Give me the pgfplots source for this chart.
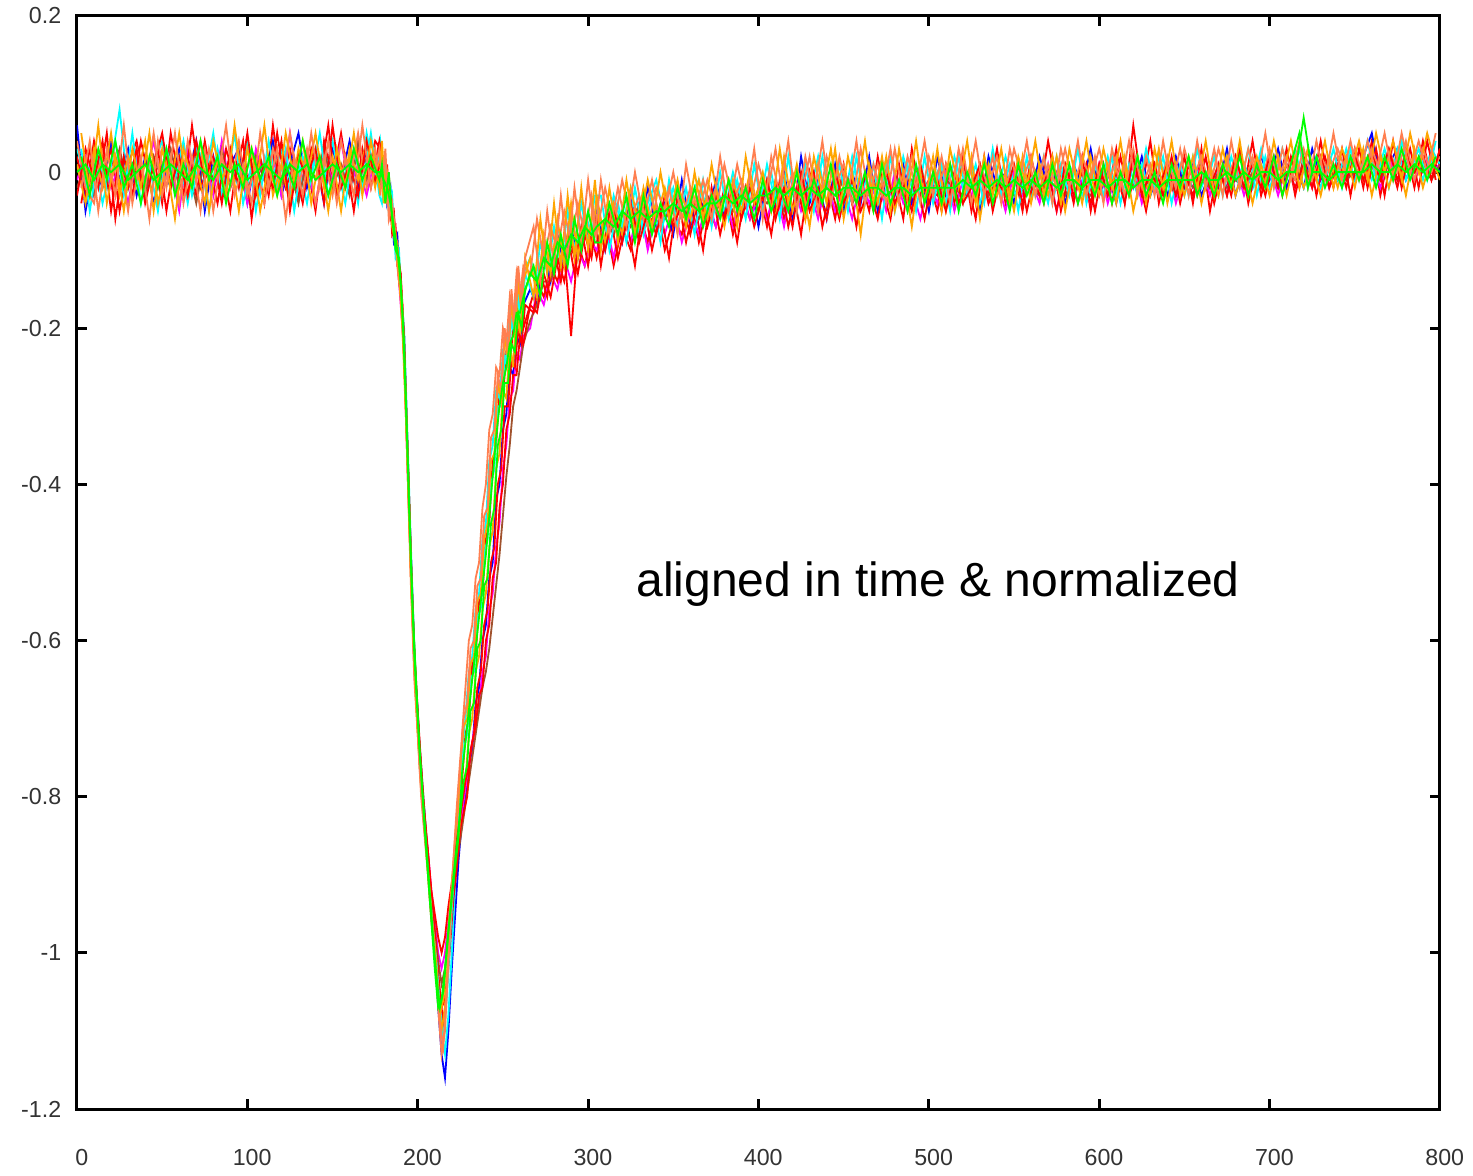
\documentclass[border=0pt]{standalone}
\usepackage{fontspec}
\setmainfont{Liberation Sans}
\usepackage{pgfplots}
\usepackage{pgfplotstable}
\pgfplotsset{compat=1.18}
\definecolor{gred}{HTML}{FF0000}
\definecolor{ggreen}{HTML}{00FF00}
\definecolor{gblue}{HTML}{0000FF}
\definecolor{gmag}{HTML}{FF00FF}
\definecolor{gcyan}{HTML}{00FFFF}
\definecolor{gsienna}{HTML}{A0522D}
\definecolor{gorange}{HTML}{FFA500}
\definecolor{gcoral}{HTML}{FF7F50}

\pgfplotstableread{
x red blue mag cyan sien orng coral redb grn
0 0.02 0.06 -0.01 0.03 -0.02 0.01 0.04 -0.03 0.00
5 -0.03 -0.05 0.02 -0.01 0.01 -0.04 -0.02 0.03 0.01
10 0.04 0.01 -0.03 0.02 -0.03 0.03 -0.04 -0.01 -0.01
15 -0.01 -0.02 0.03 -0.04 0.02 -0.02 0.03 0.04 0.01
20 0.03 0.04 -0.02 0.01 -0.01 0.05 -0.01 -0.05 0.00
25 -0.05 -0.01 0.01 0.08 0.03 -0.03 0.02 0.02 0.01
30 0.01 0.03 -0.04 -0.02 -0.02 0.02 -0.05 -0.02 -0.01
35 0.04 -0.03 0.02 0.03 0.01 -0.01 0.03 0.03 0.00
40 -0.02 0.02 -0.01 -0.03 -0.03 0.04 -0.02 -0.04 0.01
45 0.02 -0.04 0.04 0.01 0.02 -0.05 0.05 0.01 -0.01
50 -0.04 0.01 -0.02 0.04 -0.01 0.03 -0.03 0.05 0.00
55 0.05 -0.02 0.01 -0.02 0.03 -0.02 0.02 -0.02 0.01
60 -0.01 0.03 -0.05 0.02 -0.02 0.05 -0.04 0.02 0.00
65 0.02 -0.01 0.03 -0.04 0.01 -0.03 0.04 -0.03 -0.01
70 -0.03 0.04 -0.01 0.03 -0.04 0.01 -0.01 0.04 0.01
75 0.04 -0.05 0.02 -0.01 0.02 -0.04 0.03 -0.01 0.00
80 -0.02 0.02 -0.03 0.05 -0.01 0.04 -0.05 0.02 -0.01
85 0.01 -0.03 0.04 -0.03 0.03 -0.01 0.02 -0.04 0.01
90 -0.05 0.01 -0.02 0.01 -0.02 0.02 -0.02 0.03 0.00
95 0.03 0.03 0.01 -0.02 0.01 -0.05 0.04 -0.02 0.01
100 -0.01 -0.04 -0.04 0.04 -0.03 0.03 -0.03 0.05 -0.01
105 0.02 0.02 0.03 -0.05 0.02 -0.02 0.01 -0.03 0.00
110 -0.04 -0.01 -0.01 0.02 -0.01 0.06 -0.04 0.01 0.01
115 0.06 0.04 0.02 -0.01 0.03 -0.03 0.03 -0.02 0.00
120 -0.02 -0.03 -0.03 0.03 -0.02 0.01 -0.01 0.04 -0.01
125 0.03 0.01 0.05 -0.03 0.01 -0.04 0.05 -0.05 0.01
130 -0.03 0.05 -0.02 0.01 -0.04 0.03 -0.02 0.02 0.00
135 0.01 -0.02 0.01 -0.04 0.02 -0.01 0.03 -0.01 0.01
140 -0.05 0.02 -0.04 0.03 -0.01 0.05 -0.04 0.03 -0.01
145 0.04 -0.04 0.02 -0.01 0.03 -0.02 0.02 -0.04 0.00
150 -0.01 0.03 -0.01 0.04 -0.02 0.02 -0.03 0.06 0.01
155 0.05 -0.01 0.04 -0.02 0.01 -0.05 0.04 -0.02 0.00
160 -0.02 0.04 -0.02 0.02 -0.03 0.03 -0.01 0.01 0.01
165 0.03 -0.02 0.01 -0.04 0.04 -0.01 0.05 -0.03 0.00
170 -0.01 0.03 -0.03 0.05 -0.01 0.04 -0.02 0.04 0.01
175 0.04 -0.01 0.02 -0.01 0.02 -0.02 0.03 -0.01 0.00
178 0.03 -0.02 0.01 0.04 -0.01 0.02 -0.03 0.01 0.00
180 -0.03 0.02 -0.02 0.00 0.01 -0.04 0.02 -0.01 -0.01
182 0.01 -0.04 -0.01 -0.03 -0.03 0.00 -0.04 -0.02 -0.02
184 -0.06 -0.02 -0.05 -0.02 -0.04 -0.03 -0.05 -0.03 -0.04
186 -0.05 -0.09 -0.06 -0.08 -0.07 -0.08 -0.06 -0.06 -0.07
188 -0.12 -0.08 -0.11 -0.09 -0.11 -0.09 -0.12 -0.10 -0.10
190 -0.13 -0.16 -0.17 -0.15 -0.14 -0.15 -0.16 -0.13 -0.14
192 -0.24 -0.21 -0.23 -0.20 -0.22 -0.23 -0.24 -0.21 -0.22
194 -0.35 -0.37 -0.38 -0.34 -0.36 -0.37 -0.38 -0.35 -0.36
196 -0.52 -0.49 -0.51 -0.48 -0.50 -0.52 -0.53 -0.49 -0.50
198 -0.61 -0.63 -0.64 -0.61 -0.62 -0.63 -0.65 -0.61 -0.62
200 -0.71 -0.69 -0.71 -0.70 -0.71 -0.72 -0.72 -0.69 -0.70
202 -0.76 -0.78 -0.78 -0.76 -0.77 -0.79 -0.80 -0.76 -0.77
204 -0.84 -0.82 -0.83 -0.82 -0.83 -0.84 -0.85 -0.82 -0.84
206 -0.87 -0.89 -0.87 -0.88 -0.88 -0.89 -0.90 -0.87 -0.90
208 -0.94 -0.95 -0.92 -0.94 -0.93 -0.95 -0.96 -0.92 -0.96
210 -0.98 -1.00 -0.96 -0.99 -0.97 -0.99 -1.00 -0.95 -1.02
212 -1.03 -1.07 -1.00 -1.05 -1.01 -1.05 -1.07 -0.98 -1.07
214 -1.07 -1.13 -1.02 -1.10 -1.04 -1.10 -1.13 -1.00 -1.06
216 -1.06 -1.16 -1.00 -1.13 -1.02 -1.07 -1.10 -0.98 -1.02
218 -1.01 -1.10 -0.96 -1.08 -0.98 -1.00 -1.01 -0.94 -0.97
220 -0.95 -1.02 -0.92 -1.00 -0.94 -0.93 -0.93 -0.91 -0.93
222 -0.90 -0.95 -0.88 -0.91 -0.90 -0.88 -0.86 -0.87 -0.89
224 -0.85 -0.88 -0.85 -0.82 -0.87 -0.85 -0.81 -0.84 -0.85
226 -0.78 -0.83 -0.82 -0.74 -0.84 -0.80 -0.72 -0.81 -0.77
228 -0.72 -0.80 -0.79 -0.70 -0.81 -0.78 -0.66 -0.78 -0.73
230 -0.70 -0.76 -0.76 -0.64 -0.78 -0.72 -0.60 -0.76 -0.69
232 -0.63 -0.74 -0.73 -0.62 -0.75 -0.70 -0.58 -0.73 -0.65
234 -0.62 -0.68 -0.70 -0.56 -0.72 -0.64 -0.52 -0.71 -0.61
236 -0.55 -0.66 -0.68 -0.54 -0.69 -0.62 -0.50 -0.67 -0.57
238 -0.54 -0.60 -0.64 -0.47 -0.66 -0.56 -0.43 -0.66 -0.53
240 -0.47 -0.58 -0.62 -0.45 -0.64 -0.54 -0.40 -0.60 -0.49
242 -0.45 -0.52 -0.56 -0.37 -0.61 -0.48 -0.33 -0.58 -0.44
244 -0.37 -0.50 -0.54 -0.35 -0.57 -0.46 -0.31 -0.52 -0.39
246 -0.35 -0.42 -0.48 -0.28 -0.53 -0.38 -0.25 -0.50 -0.34
248 -0.28 -0.40 -0.45 -0.29 -0.49 -0.36 -0.26 -0.43 -0.30
250 -0.29 -0.33 -0.38 -0.23 -0.44 -0.28 -0.20 -0.40 -0.27
252 -0.23 -0.31 -0.35 -0.24 -0.39 -0.29 -0.22 -0.33 -0.25
254 -0.25 -0.25 -0.29 -0.18 -0.35 -0.22 -0.16 -0.31 -0.22
256 -0.20 -0.26 -0.28 -0.20 -0.30 -0.25 -0.19 -0.26 -0.21
258 -0.22 -0.21 -0.23 -0.15 -0.28 -0.17 -0.13 -0.26 -0.18
260 -0.19 -0.22 -0.24 -0.18 -0.25 -0.21 -0.16 -0.21 -0.18
262 -0.20 -0.17 -0.21 -0.13 -0.22 -0.14 -0.12 -0.22 -0.16
266 -0.17 -0.15 -0.20 -0.11 -0.19 -0.11 -0.13 -0.17 -0.13
270 -0.14 -0.17 -0.15 -0.14 -0.17 -0.16 -0.06 -0.18 -0.14
274 -0.16 -0.10 -0.17 -0.09 -0.14 -0.08 -0.11 -0.13 -0.11
278 -0.12 -0.14 -0.13 -0.12 -0.14 -0.13 -0.07 -0.16 -0.12
282 -0.14 -0.08 -0.15 -0.07 -0.11 -0.06 -0.10 -0.11 -0.09
286 -0.10 -0.12 -0.11 -0.10 -0.12 -0.12 -0.05 -0.14 -0.10
290 -0.21 -0.07 -0.14 -0.06 -0.10 -0.04 -0.09 -0.09 -0.08
294 -0.09 -0.11 -0.10 -0.09 -0.11 -0.11 -0.04 -0.13 -0.09
298 -0.12 -0.06 -0.12 -0.05 -0.08 -0.05 -0.08 -0.08 -0.07
302 -0.08 -0.10 -0.09 -0.08 -0.09 -0.10 -0.03 -0.11 -0.08
305 -0.11 -0.05 -0.10 -0.04 -0.09 -0.03 -0.08 -0.06 -0.07
310 -0.06 -0.10 -0.06 -0.09 -0.06 -0.09 -0.02 -0.10 -0.06
315 -0.12 -0.04 -0.11 -0.03 -0.08 -0.04 -0.07 -0.05 -0.07
320 -0.07 -0.09 -0.05 -0.07 -0.05 -0.08 -0.01 -0.09 -0.05
325 -0.10 -0.03 -0.09 -0.02 -0.07 -0.02 -0.06 -0.04 -0.06
330 -0.05 -0.08 -0.04 -0.08 -0.04 -0.07 -0.03 -0.09 -0.05
335 -0.09 -0.02 -0.10 -0.04 -0.07 -0.01 -0.07 -0.05 -0.06
340 -0.04 -0.07 -0.05 -0.01 -0.05 -0.06 -0.02 -0.08 -0.05
345 -0.10 -0.04 -0.08 -0.06 -0.06 -0.02 -0.05 -0.03 -0.05
350 -0.06 -0.08 -0.04 -0.02 -0.04 -0.07 0.00 -0.07 -0.04
355 -0.08 -0.01 -0.09 -0.06 -0.06 -0.03 -0.06 -0.04 -0.05
360 -0.03 -0.07 -0.05 -0.03 -0.04 -0.06 -0.02 -0.08 -0.04
365 -0.09 -0.03 -0.08 -0.01 -0.06 -0.01 -0.05 -0.03 -0.05
370 -0.04 -0.06 -0.03 -0.05 -0.03 -0.06 -0.01 -0.07 -0.04
375 -0.07 -0.01 -0.07 -0.02 -0.05 -0.02 -0.05 -0.03 -0.04
380 -0.02 -0.06 -0.03 -0.05 -0.03 -0.07 0.01 -0.06 -0.03
385 -0.08 -0.02 -0.07 0.00 -0.05 -0.01 -0.04 -0.02 -0.04
390 -0.03 -0.05 -0.02 -0.04 -0.02 -0.05 -0.01 -0.06 -0.03
395 -0.06 -0.01 -0.06 -0.02 -0.04 0.00 -0.04 -0.02 -0.04
400 -0.02 -0.07 -0.03 -0.05 -0.03 -0.05 0.01 -0.05 -0.03
405 -0.07 -0.01 -0.06 0.01 -0.04 -0.01 -0.03 -0.01 -0.03
410 -0.01 -0.05 -0.02 -0.04 -0.02 -0.06 0.03 -0.06 -0.02
415 -0.06 0.00 -0.07 -0.01 -0.05 0.02 -0.04 -0.02 -0.03
420 -0.02 -0.06 -0.01 -0.05 -0.02 -0.05 0.00 -0.07 -0.02
425 -0.08 0.02 -0.05 0.00 -0.04 -0.01 -0.03 0.00 -0.03
430 0.00 -0.04 -0.02 -0.03 -0.01 -0.07 0.02 -0.05 -0.02
435 -0.05 -0.01 -0.06 0.02 -0.04 0.01 -0.05 -0.02 -0.03
440 -0.01 -0.06 -0.01 -0.04 -0.02 -0.04 0.02 -0.06 -0.02
445 -0.06 0.01 -0.05 -0.01 -0.03 0.03 -0.02 0.00 -0.03
450 0.01 -0.05 -0.02 -0.04 -0.01 -0.06 0.01 -0.04 -0.02
455 -0.04 0.00 -0.06 0.02 -0.04 0.00 -0.04 -0.01 -0.02
460 -0.01 -0.04 -0.01 -0.03 -0.02 -0.08 0.03 -0.05 -0.03
465 -0.05 0.02 -0.04 0.00 -0.03 0.01 -0.03 -0.02 -0.02
470 0.02 -0.05 -0.01 -0.04 -0.01 -0.04 0.01 -0.06 -0.02
475 -0.04 -0.01 -0.05 0.01 -0.03 0.02 -0.04 0.00 -0.03
480 -0.01 -0.03 0.00 -0.05 -0.02 -0.05 0.03 -0.04 -0.02
485 -0.06 0.01 -0.04 0.02 -0.03 0.00 -0.03 -0.01 -0.02
490 0.03 -0.04 -0.02 -0.02 -0.01 -0.07 0.02 -0.05 -0.03
495 -0.03 0.00 -0.06 0.01 -0.03 0.01 -0.04 0.01 -0.02
500 -0.01 -0.05 -0.01 -0.03 -0.02 -0.04 0.02 -0.04 -0.02
505 -0.05 0.02 -0.04 0.00 -0.03 0.03 -0.02 -0.01 -0.02
510 0.01 -0.03 0.00 -0.04 -0.01 -0.05 0.01 -0.05 -0.02
515 -0.04 -0.01 -0.05 0.02 -0.02 0.00 -0.03 0.00 -0.02
520 0.02 -0.04 -0.01 -0.02 -0.03 -0.04 0.03 -0.04 -0.01
525 -0.05 0.01 -0.03 0.01 -0.01 0.02 -0.04 -0.02 -0.02
530 0.00 -0.05 0.01 -0.04 -0.02 -0.06 0.01 0.01 -0.01
535 -0.03 0.02 -0.04 0.00 -0.03 0.01 -0.02 -0.04 -0.02
540 0.03 -0.02 -0.01 -0.03 -0.01 -0.03 0.02 -0.01 -0.01
545 -0.04 0.00 -0.05 0.02 -0.02 0.00 -0.03 -0.03 -0.02
550 0.00 -0.04 0.00 -0.02 -0.03 -0.05 0.03 0.01 -0.01
555 -0.05 0.01 -0.03 0.01 -0.01 0.02 -0.01 -0.04 -0.02
560 0.02 -0.03 -0.01 -0.03 -0.02 -0.04 0.02 0.00 -0.01
565 -0.03 0.02 -0.04 0.00 -0.03 0.01 -0.03 -0.03 -0.02
570 0.04 -0.02 0.01 -0.04 -0.01 -0.03 0.01 0.00 -0.01
575 -0.02 0.00 -0.05 0.02 -0.02 0.02 -0.02 -0.05 -0.02
580 0.01 -0.04 0.00 -0.02 -0.03 -0.05 0.03 0.01 -0.01
585 -0.04 0.01 -0.03 0.01 -0.01 0.01 -0.02 -0.03 -0.01
590 0.02 -0.02 -0.01 -0.03 -0.02 -0.04 0.02 0.00 -0.02
595 -0.05 0.03 -0.04 0.00 -0.03 0.02 -0.01 -0.04 -0.01
600 0.01 -0.03 0.01 -0.02 -0.01 -0.03 0.03 0.01 -0.01
605 -0.03 0.00 -0.04 0.02 -0.02 0.01 -0.02 -0.03 -0.02
610 0.03 -0.04 0.00 -0.03 -0.01 -0.04 0.02 0.00 -0.01
615 -0.04 0.01 -0.03 0.01 -0.03 0.02 -0.03 -0.04 -0.01
620 0.06 -0.02 0.01 -0.02 -0.01 -0.05 0.03 0.02 -0.02
625 -0.02 0.02 -0.04 0.01 -0.02 0.00 -0.02 -0.03 -0.01
630 0.04 -0.03 0.00 -0.03 -0.01 -0.03 0.01 0.00 -0.01
635 -0.04 0.00 -0.03 0.02 -0.02 0.03 -0.03 -0.02 -0.02
640 0.01 -0.03 0.01 -0.01 -0.01 -0.04 0.02 0.01 -0.01
645 -0.03 0.02 -0.04 0.01 -0.03 0.01 -0.02 -0.03 -0.01
650 0.02 -0.02 0.00 -0.03 0.00 -0.03 0.03 0.00 -0.01
655 -0.04 0.01 -0.02 0.02 -0.02 0.02 -0.01 -0.03 -0.01
660 0.03 -0.03 0.01 -0.02 -0.01 -0.04 0.02 0.01 0.00
665 -0.05 0.00 -0.03 0.01 -0.02 0.01 -0.02 -0.02 -0.01
670 0.01 -0.02 0.01 -0.03 0.00 -0.03 0.03 0.01 -0.01
675 -0.03 0.03 -0.02 0.02 -0.02 0.02 -0.01 -0.03 0.00
680 0.02 -0.03 0.01 -0.01 -0.01 -0.03 0.02 0.02 -0.01
685 -0.02 0.01 -0.03 0.01 -0.02 0.01 -0.02 -0.02 0.00
690 0.04 -0.02 0.00 -0.02 0.00 -0.04 0.02 0.01 -0.01
695 -0.03 0.02 -0.02 0.03 -0.01 0.01 -0.02 -0.02 0.00
700 0.01 -0.01 0.01 -0.02 0.00 -0.03 0.03 0.02 0.00
705 -0.02 0.03 -0.03 0.01 -0.02 0.02 -0.01 -0.02 -0.01
710 0.03 -0.02 0.01 -0.01 0.00 -0.03 0.02 0.01 0.00
715 -0.03 0.01 -0.02 0.03 -0.01 0.02 -0.01 -0.02 0.00
720 0.02 -0.02 0.01 -0.02 0.01 -0.02 0.03 0.01 0.07
725 -0.02 0.03 -0.02 0.01 -0.01 0.01 -0.01 -0.02 0.00
730 0.04 -0.01 0.01 -0.02 0.00 -0.03 0.02 0.02 0.00
735 -0.02 0.02 -0.02 0.02 -0.01 0.02 0.00 -0.02 -0.01
740 0.02 -0.01 0.01 -0.01 0.01 -0.02 0.03 0.01 0.00
745 -0.02 0.02 -0.01 0.03 -0.01 0.02 0.00 -0.01 0.00
750 0.03 -0.01 0.02 -0.01 0.00 -0.02 0.03 0.02 0.00
755 -0.02 0.02 -0.01 0.02 -0.01 0.03 -0.01 -0.01 0.00
760 0.04 0.05 0.01 -0.01 0.01 -0.03 0.03 0.02 0.01
765 -0.03 -0.01 -0.02 0.02 -0.01 0.02 0.00 -0.01 0.00
770 0.02 0.01 0.02 -0.02 0.01 -0.02 0.03 0.03 0.00
775 -0.02 0.03 -0.01 0.03 -0.01 0.02 0.00 -0.01 0.01
780 0.03 -0.01 0.02 -0.01 0.01 -0.03 0.04 0.02 0.00
785 -0.02 0.02 -0.01 0.02 0.00 0.03 -0.01 0.00 0.01
790 0.04 0.00 0.02 -0.01 0.01 -0.02 0.03 0.02 0.00
795 -0.01 0.02 0.00 0.03 -0.01 0.02 0.00 -0.01 0.01
800 0.03 0.00 0.01 0.01 0.01 -0.01 0.02 0.03 0.00
}\traces

\pgfplotstableread{
x redc cyanb orngb coralb grnb
2.5 -0.04 0.03 0.05 -0.02 0.02
7.5 0.03 -0.05 -0.03 0.04 -0.03
12.5 -0.02 0.02 0.06 -0.05 0.03
17.5 0.05 -0.02 -0.04 0.03 -0.01
22.5 -0.06 0.04 0.02 -0.03 0.04
27.5 0.02 -0.03 -0.05 0.06 -0.02
32.5 -0.03 0.05 0.03 -0.04 0.01
37.5 0.04 -0.04 -0.02 0.02 -0.04
42.5 -0.01 0.01 0.05 -0.06 0.02
47.5 0.03 -0.05 -0.04 0.04 -0.02
52.5 -0.05 0.03 0.01 -0.02 0.03
57.5 0.02 -0.01 -0.06 0.05 -0.03
62.5 -0.03 0.04 0.03 -0.04 0.01
67.5 0.06 -0.03 -0.01 0.02 -0.02
72.5 -0.02 0.02 0.04 -0.05 0.04
77.5 0.01 -0.05 -0.05 0.03 -0.01
82.5 -0.04 0.03 0.02 -0.01 0.02
87.5 0.03 -0.02 -0.03 0.06 -0.04
92.5 -0.01 0.05 0.06 -0.03 0.01
97.5 0.04 -0.04 -0.02 0.01 -0.02
102.5 -0.06 0.01 0.03 -0.04 0.03
107.5 0.02 -0.03 -0.05 0.05 -0.01
112.5 -0.03 0.04 0.01 -0.02 0.02
117.5 0.05 -0.02 -0.03 0.03 -0.03
122.5 -0.02 0.03 0.05 -0.06 0.01
127.5 0.01 -0.05 -0.01 0.02 -0.02
132.5 -0.04 0.02 0.04 -0.03 0.04
137.5 0.03 -0.01 -0.04 0.05 -0.01
142.5 -0.01 0.05 0.02 -0.02 0.02
147.5 0.06 -0.03 -0.05 0.04 -0.03
152.5 -0.03 0.01 0.03 -0.04 0.01
157.5 0.02 -0.04 -0.02 0.02 -0.02
162.5 -0.05 0.03 0.05 -0.03 0.03
167.5 0.03 -0.02 -0.03 0.06 -0.01
172.5 -0.02 0.05 0.04 -0.02 0.02
177.5 0.04 -0.03 -0.02 0.03 -0.01
179 0.02 -0.04 0.04 -0.02 0.01
181 -0.04 0.01 -0.03 0.03 -0.04
183 0.00 -0.05 -0.01 -0.06 0.00
185 -0.08 -0.03 -0.07 -0.04 -0.06
187 -0.07 -0.11 -0.09 -0.08 -0.10
189 -0.14 -0.10 -0.13 -0.12 -0.11
191 -0.17 -0.19 -0.20 -0.17 -0.18
193 -0.30 -0.28 -0.31 -0.29 -0.29
195 -0.42 -0.44 -0.45 -0.43 -0.43
197 -0.57 -0.55 -0.58 -0.57 -0.56
199 -0.66 -0.67 -0.68 -0.67 -0.65
201 -0.73 -0.74 -0.75 -0.76 -0.74
203 -0.80 -0.81 -0.81 -0.82 -0.80
205 -0.85 -0.86 -0.87 -0.87 -0.86
207 -0.90 -0.92 -0.92 -0.93 -0.92
209 -0.95 -0.97 -0.98 -0.98 -0.98
211 -1.00 -1.01 -1.02 -1.03 -1.03
213 -1.05 -1.07 -1.08 -1.09 -1.07
215 -1.09 -1.11 -1.06 -1.12 -1.05
217 -1.05 -1.06 -1.00 -1.05 -1.00
219 -0.99 -0.98 -0.94 -0.96 -0.95
221 -0.93 -0.91 -0.88 -0.88 -0.90
223 -0.89 -0.84 -0.82 -0.81 -0.86
225 -0.84 -0.78 -0.76 -0.75 -0.82
227 -0.82 -0.74 -0.71 -0.70 -0.78
229 -0.80 -0.72 -0.70 -0.68 -0.76
231 -0.74 -0.65 -0.63 -0.61 -0.69
233 -0.72 -0.64 -0.62 -0.60 -0.68
235 -0.66 -0.57 -0.55 -0.53 -0.61
237 -0.64 -0.56 -0.54 -0.52 -0.60
239 -0.58 -0.49 -0.47 -0.44 -0.53
241 -0.56 -0.47 -0.45 -0.43 -0.52
243 -0.50 -0.40 -0.37 -0.34 -0.45
245 -0.48 -0.38 -0.36 -0.33 -0.43
247 -0.40 -0.30 -0.27 -0.26 -0.35
249 -0.38 -0.30 -0.29 -0.28 -0.33
251 -0.30 -0.24 -0.21 -0.20 -0.27
253 -0.30 -0.25 -0.24 -0.23 -0.27
255 -0.24 -0.19 -0.17 -0.15 -0.22
257 -0.25 -0.21 -0.20 -0.20 -0.23
259 -0.20 -0.16 -0.14 -0.12 -0.18
261 -0.22 -0.19 -0.18 -0.17 -0.20
263 -0.17 -0.13 -0.11 -0.11 -0.15
268 -0.18 -0.16 -0.16 -0.07 -0.12
272 -0.13 -0.09 -0.06 -0.14 -0.16
276 -0.16 -0.13 -0.13 -0.05 -0.09
280 -0.10 -0.07 -0.04 -0.12 -0.13
284 -0.14 -0.12 -0.12 -0.03 -0.08
288 -0.08 -0.05 -0.03 -0.11 -0.12
292 -0.13 -0.10 -0.11 -0.02 -0.06
296 -0.07 -0.04 -0.02 -0.09 -0.10
300 -0.12 -0.09 -0.10 -0.01 -0.05
304 -0.06 -0.03 -0.01 -0.08 -0.09
307.5 -0.12 -0.03 -0.10 -0.01 -0.09
312.5 -0.05 -0.10 -0.02 -0.08 -0.04
317.5 -0.11 -0.04 -0.09 -0.02 -0.08
322.5 -0.06 -0.09 -0.01 -0.07 -0.03
327.5 -0.12 -0.02 -0.08 0.00 -0.09
332.5 -0.04 -0.08 -0.02 -0.06 -0.03
337.5 -0.10 -0.03 -0.07 -0.01 -0.08
342.5 -0.05 -0.09 0.00 -0.07 -0.04
347.5 -0.11 -0.01 -0.06 -0.02 -0.07
352.5 -0.03 -0.07 -0.01 -0.08 -0.02
357.5 -0.09 -0.02 -0.07 0.01 -0.06
362.5 -0.04 -0.08 0.00 -0.05 -0.02
367.5 -0.10 -0.01 -0.06 -0.01 -0.07
372.5 -0.02 -0.07 0.01 -0.06 -0.03
377.5 -0.08 0.00 -0.05 0.02 -0.06
382.5 -0.03 -0.06 -0.01 -0.05 -0.01
387.5 -0.09 -0.01 -0.07 0.01 -0.05
392.5 -0.02 -0.06 0.02 -0.04 -0.02
397.5 -0.07 0.01 -0.04 0.03 -0.06
402.5 -0.03 -0.05 0.00 -0.06 -0.01
407.5 -0.08 0.00 -0.05 0.02 -0.05
412.5 -0.01 -0.06 0.03 -0.03 -0.02
417.5 -0.07 0.02 -0.04 0.04 -0.05
422.5 -0.02 -0.05 0.01 -0.05 0.00
427.5 -0.06 0.01 -0.06 0.02 -0.05
432.5 0.00 -0.05 0.02 -0.03 -0.01
437.5 -0.07 0.02 -0.03 0.04 -0.04
442.5 -0.02 -0.04 0.03 -0.04 0.01
447.5 -0.06 0.01 -0.05 0.02 -0.05
452.5 -0.01 -0.05 0.02 -0.03 -0.01
457.5 -0.07 0.02 -0.03 0.04 -0.04
462.5 0.00 -0.04 0.04 -0.04 0.00
467.5 -0.05 0.01 -0.04 0.01 -0.05
472.5 -0.02 -0.06 0.02 -0.03 0.01
477.5 -0.06 0.02 -0.05 0.03 -0.04
482.5 0.01 -0.03 0.03 -0.04 -0.01
487.5 -0.05 0.01 -0.03 0.02 -0.05
492.5 -0.01 -0.05 0.04 -0.02 0.01
497.5 -0.06 0.02 -0.04 0.04 -0.04
502.5 0.00 -0.04 0.02 -0.03 0.00
507.5 -0.05 0.01 -0.05 0.02 -0.04
512.5 0.01 -0.05 0.03 -0.04 0.01
517.5 -0.04 0.02 -0.02 0.03 -0.05
522.5 -0.01 -0.03 0.04 -0.02 0.00
527.5 -0.06 0.01 -0.04 0.04 -0.03
532.5 0.02 -0.04 0.02 -0.03 0.01
537.5 -0.05 0.03 -0.03 0.02 -0.04
542.5 0.00 -0.03 0.03 -0.04 0.00
547.5 -0.04 0.01 -0.04 0.03 -0.05
552.5 0.01 -0.05 0.02 -0.02 0.01
557.5 -0.05 0.02 -0.02 0.04 -0.03
562.5 0.00 -0.03 0.04 -0.03 0.00
567.5 -0.04 0.02 -0.03 0.02 -0.04
572.5 0.02 -0.04 0.02 -0.04 0.01
577.5 -0.05 0.01 -0.04 0.03 -0.03
582.5 0.00 -0.03 0.03 -0.02 0.01
587.5 -0.04 0.03 -0.02 0.04 -0.04
592.5 0.01 -0.04 0.04 -0.03 0.00
597.5 -0.05 0.01 -0.03 0.02 -0.03
602.5 0.01 -0.03 0.03 -0.04 0.01
607.5 -0.04 0.02 -0.02 0.03 -0.04
612.5 0.02 -0.04 0.04 -0.02 0.00
617.5 -0.03 0.01 -0.03 0.04 -0.03
622.5 0.00 -0.03 0.02 -0.03 0.02
627.5 -0.05 0.03 -0.04 0.02 -0.03
632.5 0.01 -0.02 0.03 -0.03 0.00
637.5 -0.03 0.02 -0.02 0.04 -0.04
642.5 0.02 -0.04 0.04 -0.02 0.01
647.5 -0.04 0.01 -0.03 0.03 -0.02
652.5 0.01 -0.03 0.02 -0.03 0.02
657.5 -0.03 0.03 -0.02 0.04 -0.03
662.5 0.02 -0.02 0.04 -0.02 0.00
667.5 -0.04 0.02 -0.03 0.03 -0.03
672.5 0.01 -0.03 0.03 -0.03 0.01
677.5 -0.03 0.02 -0.02 0.04 -0.02
682.5 0.03 -0.02 0.04 -0.02 0.02
687.5 -0.04 0.03 -0.03 0.03 -0.03
692.5 0.01 -0.03 0.02 -0.01 0.01
697.5 -0.03 0.02 -0.02 0.05 -0.02
702.5 0.02 -0.02 0.04 -0.02 0.02
707.5 -0.03 0.03 -0.01 0.03 -0.03
712.5 0.02 -0.01 0.04 -0.01 0.01
717.5 -0.02 0.03 -0.02 0.04 0.05
722.5 0.03 -0.02 0.03 -0.02 -0.02
727.5 -0.03 0.02 -0.01 0.04 0.02
732.5 0.02 -0.01 0.04 -0.01 -0.02
737.5 -0.02 0.03 -0.02 0.05 0.01
742.5 0.03 -0.02 0.03 -0.01 -0.02
747.5 -0.03 0.03 0.00 0.04 0.02
752.5 0.03 -0.01 0.04 -0.01 -0.01
757.5 -0.02 0.04 -0.01 0.04 0.02
762.5 0.03 -0.01 0.05 0.00 -0.02
767.5 -0.03 0.03 0.00 0.05 0.02
772.5 0.04 -0.01 0.04 -0.01 -0.01
777.5 -0.02 0.04 -0.01 0.05 0.03
782.5 0.03 0.00 0.05 0.00 -0.01
787.5 -0.02 0.03 0.00 0.04 0.02
792.5 0.04 -0.01 0.05 0.00 -0.01
797.5 -0.01 0.04 0.01 0.05 0.02
}\tracesb

\begin{document}
\begin{tikzpicture}
\useasboundingbox (-19.25bp,-16.75bp) rectangle (349bp,277.25bp);
\begin{axis}[
  at={(0,0)}, anchor=south west,
  scale only axis, width=340.75bp, height=273.25bp,
  xmin=0, xmax=800, ymin=-1.2, ymax=0.2,
  xtick={0,100,200,300,400,500,600,700,800},
  xticklabels={0,100,200,300,400,500,600,700,800},
  ytick={-1.2,-1,-0.8,-0.6,-0.4,-0.2,0,0.2},
  yticklabels={-1.2,-1,-0.8,-0.6,-0.4,-0.2,0,0.2},
  tick align=inside, tick pos=both,
  major tick length=2.6bp,
  every tick/.style={black, line width=0.75bp},
  axis line style={black, line width=0.75bp},
  ticklabel style={font=\fontsize{5.8bp}{7bp}\selectfont, text=black!80, inner sep=0pt},
  xticklabel style={anchor=center, yshift=-12.25bp, xshift=1.2bp},
  yticklabel style={anchor=east, xshift=-3.75bp},
  every axis plot/.append style={line width=0.45bp, mark=none},
]
\addplot[gred] table[x=x,y=red]{\traces};
\addplot[gblue] table[x=x,y=blue]{\traces};
\addplot[gmag] table[x=x,y=mag]{\traces};
\addplot[gcyan] table[x=x,y=cyan]{\traces};
\addplot[gsienna] table[x=x,y=sien]{\traces};
\addplot[gred] table[x=x,y=redc]{\tracesb};
\addplot[gcyan] table[x=x,y=cyanb]{\tracesb};
\addplot[gorange] table[x=x,y=orng]{\traces};
\addplot[gcoral] table[x=x,y=coral]{\traces};
\addplot[gred] table[x=x,y=redb]{\traces};
\addplot[gorange] table[x=x,y=orngb]{\tracesb};
\addplot[gcoral] table[x=x,y=coralb]{\tracesb};
\addplot[ggreen] table[x=x,y=grnb]{\tracesb};
\addplot[ggreen] table[x=x,y=grn]{\traces};
\node[anchor=base west, inner sep=0pt, font=\fontsize{12bp}{14bp}\selectfont] at (axis cs:328,-0.544) {aligned in time \& normalized};
\end{axis}
\end{tikzpicture}
\end{document}
